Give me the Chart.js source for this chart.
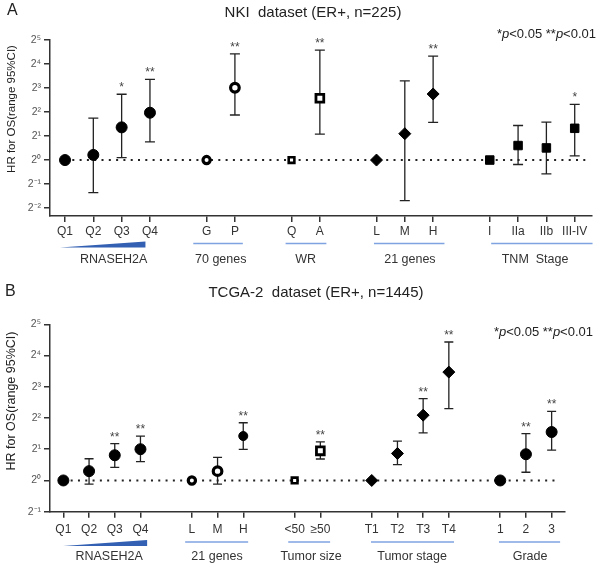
<!DOCTYPE html>
<html>
<head>
<meta charset="utf-8">
<script src="https://cdn.jsdelivr.net/npm/chart.js@4.4.1/dist/chart.umd.min.js"></script>
<style>
  body { margin: 0; background: #fff; }
  canvas { display: block; }
</style>
</head>
<body>
<canvas id="panelA" width="600" height="283"></canvas>
<canvas id="panelB" width="600" height="283"></canvas>
<script>
// ---- Panel A: NKI dataset (ER+, n=225) ----
var labelsA = ['Q1','Q2','Q3','Q4','','G','P','','Q','A','','L','M','H','','I','IIa','IIb','III-IV'];
var hrA  = [1, 1.16, 2.57, 3.92, null, 1, 8.06, null, 1, 5.94, null, 1, 2.14, 6.73, null, 1, 1.52, 1.42, 2.50];
var loA  = [null, 0.39, 1.07, 1.69, null, null, 3.67, null, null, 2.11, null, null, 0.31, 2.97, null, null, 0.88, 0.67, 1.13];
var hiA  = [null, 3.36, 6.68, 10.27, null, null, 21.4, null, null, 23.9, null, null, 9.85, 20.1, null, null, 2.71, 2.99, 4.99];
var sigA = ['', '', '*', '**', '', '', '**', '', '', '**', '', '', '', '**', '', '', '', '', '*'];
var groupsA = ['RNASEH2A', '70 genes', 'WR', '21 genes', 'TNM  Stage'];
var yExpA = [-2, -1, 0, 1, 2, 3, 4, 5];

// ---- Panel B: TCGA-2 dataset (ER+, n=1445) ----
var labelsB = ['Q1','Q2','Q3','Q4','','L','M','H','','<50','\u226550','','T1','T2','T3','T4','','1','2','3'];
var hrB  = [1, 1.23, 1.75, 2.00, null, 1, 1.23, 2.68, null, 1, 1.93, null, 1, 1.82, 4.26, 11.08, null, 1, 1.79, 2.93];
var loB  = [null, 0.92, 1.34, 1.52, null, null, 0.92, 1.99, null, null, 1.61, null, null, 1.42, 2.87, 4.92, null, null, 1.20, 1.96];
var hiB  = [null, 1.62, 2.27, 2.68, null, null, 1.67, 3.60, null, null, 2.35, null, null, 2.39, 6.15, 21.6, null, null, 2.83, 4.63];
var sigB = ['', '', '**', '**', '', '', '', '**', '', '', '**', '', '', '', '**', '**', '', '', '**', '**'];
var groupsB = ['RNASEH2A', '21 genes', 'Tumor size', 'Tumor stage', 'Grade'];
var yExpB = [-1, 0, 1, 2, 3, 4, 5];

// ---- styles ----
var FONT = '"Liberation Sans", Arial, sans-serif';
var INK = '#222';
var MARK = {
  dot:   { style: 'circle',  r: 5.5, fill: '#000', bw: 1 },
  dotS:  { style: 'circle',  r: 4.5, fill: '#000', bw: 1 },
  ring:  { style: 'circle',  r: 3.6, fill: '#fff', bw: 3.2 },
  ringL: { style: 'circle',  r: 4.3, fill: '#fff', bw: 3.2 },
  box:   { style: 'rect',    r: 4,   fill: '#fff', bw: 2.6 },
  boxL:  { style: 'rect',    r: 5.5, fill: '#fff', bw: 2.8 },
  dia:   { style: 'rectRot', r: 6,   fill: '#000', bw: 1 },
  sq:    { style: 'rect',    r: 6,   fill: '#000', bw: 1 }
};

var panelA = {
  id: 'panelA', letter: 'A', title: 'NKI  dataset (ER+, n=225)', titleX: 313, titleY: 13,
  labels: labelsA, hr: hrA, lo: loA, hi: hiA, sig: sigA, groups: groupsA, yExp: yExpA,
  markers: ['dot','dot','dot','dot',null,'ring','ringL',null,'box','boxL',null,'dia','dia','dia',null,'sq','sq','sq','sq'],
  // [from, to, text centre] in x units, and whether the decoration is a wedge
  deco: [[-0.18, 2.84, 1.72, true], [4.53, 6.28, 5.5], [7.79, 9.23, 8.5], [10.91, 13.4, 12.18], [15.05, 18.63, 16.6]],
  xMin: -0.53, xMax: 18.6, yMin: -2.33, yMax: 5,
  top: 40, right: 595, xAxisH: 67, xPad: 2,
  legendRight: 596, legendY: 34, yLabelY: 109, yLabelSize: 11.5,
  decoLineY: 243.5, decoTextY: 260, cap: 5
};
var panelB = {
  id: 'panelB', letter: 'B', title: 'TCGA-2  dataset (ER+, n=1445)', titleX: 316, titleY: 10,
  labels: labelsB, hr: hrB, lo: loB, hi: hiB, sig: sigB, groups: groupsB, yExp: yExpB,
  markers: ['dot','dot','dot','dot',null,'ring','ringL','dotS',null,'box','boxL',null,'dia','dia','dia','dia',null,'dot','dot','dot'],
  deco: [[-0.01, 3.26, 1.78, true], [4.74, 7.19, 5.98], [8.75, 10.38, 9.64], [11.97, 15.2, 13.57], [16.95, 19.33, 18.16]],
  xMin: -0.52, xMax: 19.52, yMin: -1, yMax: 5,
  top: 41.3, right: 565, xAxisH: 54.3, xPad: 5,
  legendRight: 593, legendY: 49, yLabelY: 118, yLabelSize: 12.5,
  decoLineY: 259, decoTextY: 273.7, cap: 4.5
};

function sup(n) {
  var map = { '-': '\u207B', '0': '\u2070', '1': '\u00B9', '2': '\u00B2', '3': '\u00B3', '4': '\u2074', '5': '\u2075' };
  return String(n).split('').map(function (c) { return map[c]; }).join('');
}

function makeDeco(p) {
  return {
    id: 'deco',
    beforeDatasetsDraw: function (chart) {
      var ctx = chart.ctx, xs = chart.scales.x, ys = chart.scales.y, area = chart.chartArea;
      // reference line at HR = 1
      ctx.save();
      ctx.strokeStyle = INK;
      ctx.lineWidth = 2;
      ctx.setLineDash([2, 5.3]);
      var y1 = ys.getPixelForValue(1);
      ctx.beginPath();
      ctx.moveTo(xs.getPixelForValue(0), y1);
      ctx.lineTo(area.right - 6, y1);
      ctx.stroke();
      ctx.setLineDash([]);
      // 95% CI bars
      ctx.lineWidth = 1.3;
      p.hr.forEach(function (v, i) {
        if (p.lo[i] == null || p.hi[i] == null) return;
        var x = xs.getPixelForValue(i), yt = ys.getPixelForValue(p.hi[i]), yb = ys.getPixelForValue(p.lo[i]);
        ctx.beginPath();
        ctx.moveTo(x, yt); ctx.lineTo(x, yb);
        ctx.moveTo(x - p.cap, yt); ctx.lineTo(x + p.cap, yt);
        ctx.moveTo(x - p.cap, yb); ctx.lineTo(x + p.cap, yb);
        ctx.stroke();
      });
      ctx.restore();
    },
    afterDraw: function (chart) {
      var ctx = chart.ctx, xs = chart.scales.x, ys = chart.scales.y;
      ctx.save();
      // significance stars
      ctx.fillStyle = '#444';
      ctx.font = '12px ' + FONT;
      ctx.textAlign = 'center';
      ctx.textBaseline = 'alphabetic';
      p.sig.forEach(function (s, i) {
        if (!s) return;
        ctx.fillText(s, xs.getPixelForValue(i), ys.getPixelForValue(p.hi[i]) - 3);
      });
      // panel letter and title
      ctx.fillStyle = INK;
      ctx.textBaseline = 'middle';
      ctx.textAlign = 'left';
      ctx.font = '16px ' + FONT;
      ctx.fillText(p.letter, p.letter === 'A' ? 7 : 5, p.letter === 'A' ? 11 : 9);
      ctx.textAlign = 'center';
      ctx.font = '15px ' + FONT;
      ctx.fillText(p.title, p.titleX, p.titleY);
      // p-value legend, p in italics
      var parts = [['*', ''], ['p', 'italic '], ['<0.05 **', ''], ['p', 'italic '], ['<0.01', '']];
      var w = 0;
      parts.forEach(function (pt) { ctx.font = pt[1] + '13px ' + FONT; w += ctx.measureText(pt[0]).width; });
      var x = p.legendRight - w;
      ctx.textAlign = 'left';
      parts.forEach(function (pt) {
        ctx.font = pt[1] + '13px ' + FONT;
        ctx.fillText(pt[0], x, p.legendY);
        x += ctx.measureText(pt[0]).width;
      });
      // y axis title
      ctx.save();
      ctx.translate(12, p.yLabelY);
      ctx.rotate(-Math.PI / 2);
      ctx.textAlign = 'center';
      ctx.font = p.yLabelSize + 'px ' + FONT;
      ctx.fillText('HR for OS(range 95%CI)', 0, 0);
      ctx.restore();
      // group underlines and names
      p.deco.forEach(function (d, g) {
        var x0 = xs.getPixelForValue(d[0]), x1 = xs.getPixelForValue(d[1]);
        if (d[3]) {
          ctx.fillStyle = '#3360b2';
          ctx.beginPath();
          ctx.moveTo(x0, p.decoLineY + 4);
          ctx.lineTo(x1, p.decoLineY + 4);
          ctx.lineTo(x1, p.decoLineY - 2);
          ctx.closePath();
          ctx.fill();
        } else {
          ctx.strokeStyle = '#7fa3e0';
          ctx.lineWidth = 1.6;
          ctx.beginPath();
          ctx.moveTo(x0, p.decoLineY);
          ctx.lineTo(x1, p.decoLineY);
          ctx.stroke();
        }
        ctx.fillStyle = '#333';
        ctx.textAlign = 'center';
        ctx.font = '12.5px ' + FONT;
        ctx.fillText(p.groups[g], xs.getPixelForValue(d[2]), p.decoTextY);
      });
      ctx.restore();
    }
  };
}

function drawPanel(p) {
  var pts = [];
  p.hr.forEach(function (v, i) { if (v != null) pts.push({ x: i, y: v }); });
  var mk = function (c) { return MARK[p.markers[c.raw.x]]; };
  new Chart(document.getElementById(p.id), {
    type: 'scatter',
    data: {
      datasets: [{
        data: pts,
        pointStyle: function (c) { return mk(c).style; },
        pointRadius: function (c) { return mk(c).r; },
        pointBorderWidth: function (c) { return mk(c).bw; },
        pointBackgroundColor: function (c) { return mk(c).fill; },
        pointBorderColor: '#000'
      }]
    },
    options: {
      responsive: false,
      animation: false,
      events: [],
      layout: { padding: { top: p.top, right: 600 - p.right, left: 0, bottom: 0 } },
      plugins: { legend: { display: false }, tooltip: { enabled: false } },
      scales: {
        x: {
          type: 'linear', min: p.xMin, max: p.xMax,
          afterBuildTicks: function (s) {
            s.ticks = p.labels.map(function (l, i) { return { value: i, l: l }; }).filter(function (t) { return t.l; });
          },
          afterFit: function (s) { s.height = p.xAxisH; },
          ticks: {
            autoSkip: false, maxRotation: 0, padding: p.xPad, color: '#333',
            font: { family: FONT, size: 12 },
            callback: function (v) { return p.labels[v]; }
          },
          grid: { drawOnChartArea: false, tickLength: 6, color: '#333', lineWidth: 1.5 },
          border: { color: '#333', width: 1.5 }
        },
        y: {
          type: 'logarithmic', min: Math.pow(2, p.yMin), max: Math.pow(2, p.yMax),
          afterBuildTicks: function (s) {
            s.ticks = p.yExp.map(function (e) { return { value: Math.pow(2, e) }; });
          },
          afterFit: function (s) { s.width = 50; },
          ticks: {
            autoSkip: false, padding: 3, color: '#555',
            font: { family: FONT, size: 10.5 },
            callback: function (v) { return '2' + sup(Math.round(Math.log2(v))); }
          },
          grid: { drawOnChartArea: false, tickLength: 6, color: '#333', lineWidth: 1.5 },
          border: { color: '#333', width: 1.5 }
        }
      }
    },
    plugins: [makeDeco(p)]
  });
}

drawPanel(panelA);
drawPanel(panelB);
</script>
</body>
</html>
